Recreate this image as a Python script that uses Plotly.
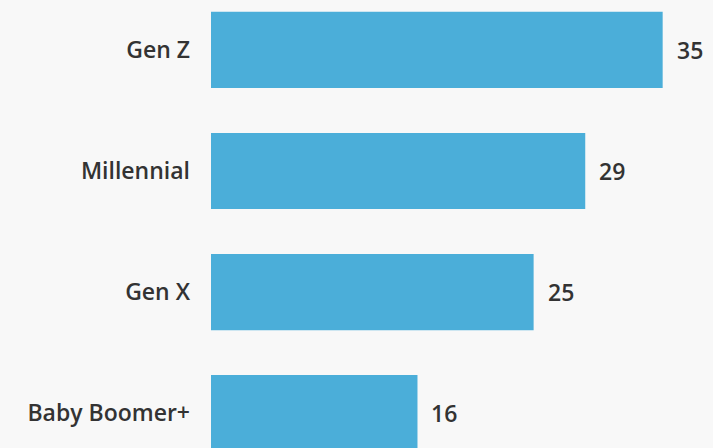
import plotly.graph_objects as go

categories = ["Gen Z", "Millennial", "Gen X", "Baby Boomer+"]
values = [35, 29, 25, 16]
value_labels = ["35", "29", "25", "16"]

BAR = "#4BAED9"
BG = "#F8F8F8"
TXT = "#333333"
FONT = dict(family="Open Sans", size=23, color=TXT, weight=600)

fig = go.Figure()
fig.add_trace(go.Bar(
    x=values, y=categories, orientation="h",
    marker=dict(color=BAR, line=dict(width=0)),
    width=0.63,
    hoverinfo="skip",
))
for v, c, t in zip(values, categories, value_labels):
    fig.add_annotation(x=v, y=c, text=t, showarrow=False, xanchor="left",
                       xshift=12, font=FONT)

fig.update_layout(
    width=713, height=448,
    margin=dict(l=211, r=0, t=0, b=0),
    paper_bgcolor=BG, plot_bgcolor=BG,
    showlegend=False,
    xaxis=dict(range=[0, 38.9], visible=False, fixedrange=True),
    yaxis=dict(type="category", categoryorder="array", categoryarray=categories,
               range=[3.289, -0.413], showgrid=False, zeroline=False, showline=False,
               ticks="", ticklabelstandoff=20, tickfont=FONT),
)
fig.write_html("out.html")
